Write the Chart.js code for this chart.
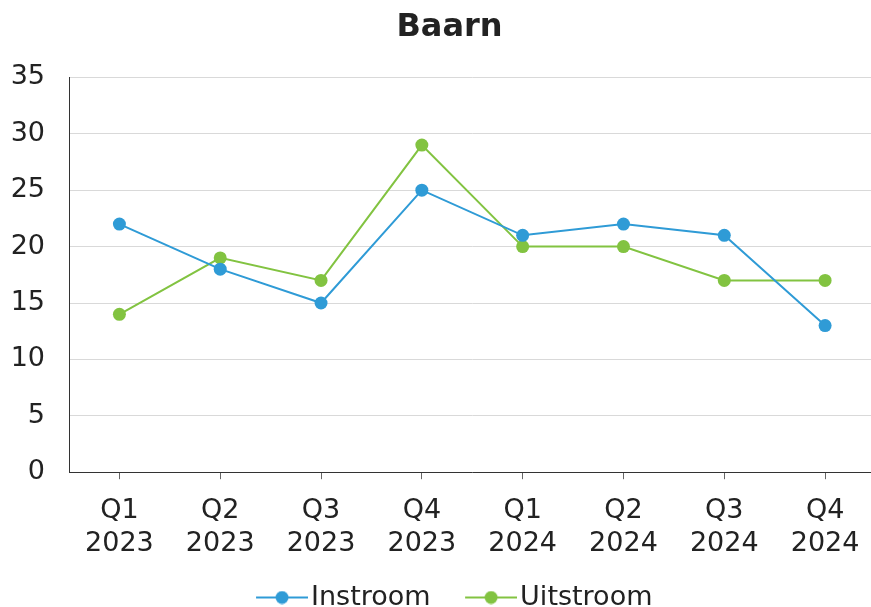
<!DOCTYPE html>
<html lang="nl">
<head>
<meta charset="UTF-8">
<title>Baarn</title>
<script src="https://cdn.jsdelivr.net/npm/chart.js"></script>
<style>
  html, body { margin: 0; padding: 0; overflow: hidden; background: #fff; }
</style>
</head>
<body>
<canvas id="myChart" width="882" height="621"></canvas>
<script>
const quarters = [['Q1','2023'],['Q2','2023'],['Q3','2023'],['Q4','2023'],['Q1','2024'],['Q2','2024'],['Q3','2024'],['Q4','2024']];
const instroom = [22, 18, 15, 25, 21, 22, 21, 13];
const uitstroom = [14, 19, 17, 29, 20, 20, 17, 17];
const blue = '#2f9bd6';
const green = '#82c341';

// legend marker: short line with a dot in the middle; image is wider than the
// legend box so the line sits right up against the label text
function legendIcon(color){
    const c = document.createElement('canvas');
    c.width = 89; c.height = 14;
    const g = c.getContext('2d');
    g.strokeStyle = color; g.lineWidth = 2;
    g.beginPath(); g.moveTo(37, 7); g.lineTo(89, 7); g.stroke();
    g.fillStyle = color;
    g.beginPath(); g.arc(63, 7, 6.5, 0, Math.PI*2); g.fill();
    return c;
}
const icons = [legendIcon(blue), legendIcon(green)];

// centre the title like the original
const shiftTitle = {
    id: 'shiftTitle',
    afterLayout(chart){
        if (chart.titleBlock) { chart.titleBlock.left = 24; chart.titleBlock.right = 875; }
    }
};

Chart.defaults.font.family = 'DejaVu Sans';
Chart.defaults.color = '#222';

new Chart(document.getElementById('myChart'), {
    type: 'line',
    data: {
        labels: quarters,
        datasets: [{
            label: 'Instroom',
            data: instroom,
            borderColor: blue,
            backgroundColor: blue,
            borderWidth: 2,
            pointRadius: 6.5,
            pointHoverRadius: 6.5,
            pointBorderWidth: 0
        },{
            label: 'Uitstroom',
            data: uitstroom,
            borderColor: green,
            backgroundColor: green,
            borderWidth: 2,
            pointRadius: 6.5,
            pointHoverRadius: 6.5,
            pointBorderWidth: 0
        }]
    },
    plugins: [shiftTitle],
    options: {
        responsive: false,
        animation: false,
        layout: { padding: 0 },
        plugins: {
            title: {
                display: true,
                text: 'Baarn',
                color: '#222',
                font: { size: 32, weight: 'bold' },
                padding: { top: 8, bottom: 31 }
            },
            legend: {
                position: 'bottom',
                labels: {
                    usePointStyle: true,
                    pointStyleWidth: 68,
                    padding: 8,
                    color: '#222',
                    font: { size: 27 },
                    generateLabels(chart){
                        const items = Chart.defaults.plugins.legend.labels.generateLabels(chart);
                        items.forEach((it, i) => { it.pointStyle = icons[i]; });
                        return items;
                    }
                }
            },
            tooltip: { enabled: false }
        },
        scales: {
            x: {
                offset: true,
                grid: { drawOnChartArea: false, drawTicks: true, tickLength: 7, color: '#666' },
                border: { color: '#333', width: 1 },
                ticks: { font: { size: 27 }, color: '#222', padding: 16, maxRotation: 0 }
            },
            y: {
                min: 0,
                max: 35,
                afterFit(scale){ scale.width = 69; },
                ticks: { stepSize: 5, font: { size: 27 }, color: '#222', padding: 24 },
                grid: { color: '#d9d9d9', drawTicks: false },
                border: { color: '#333', width: 1 }
            }
        }
    }
});
</script>
</body>
</html>
